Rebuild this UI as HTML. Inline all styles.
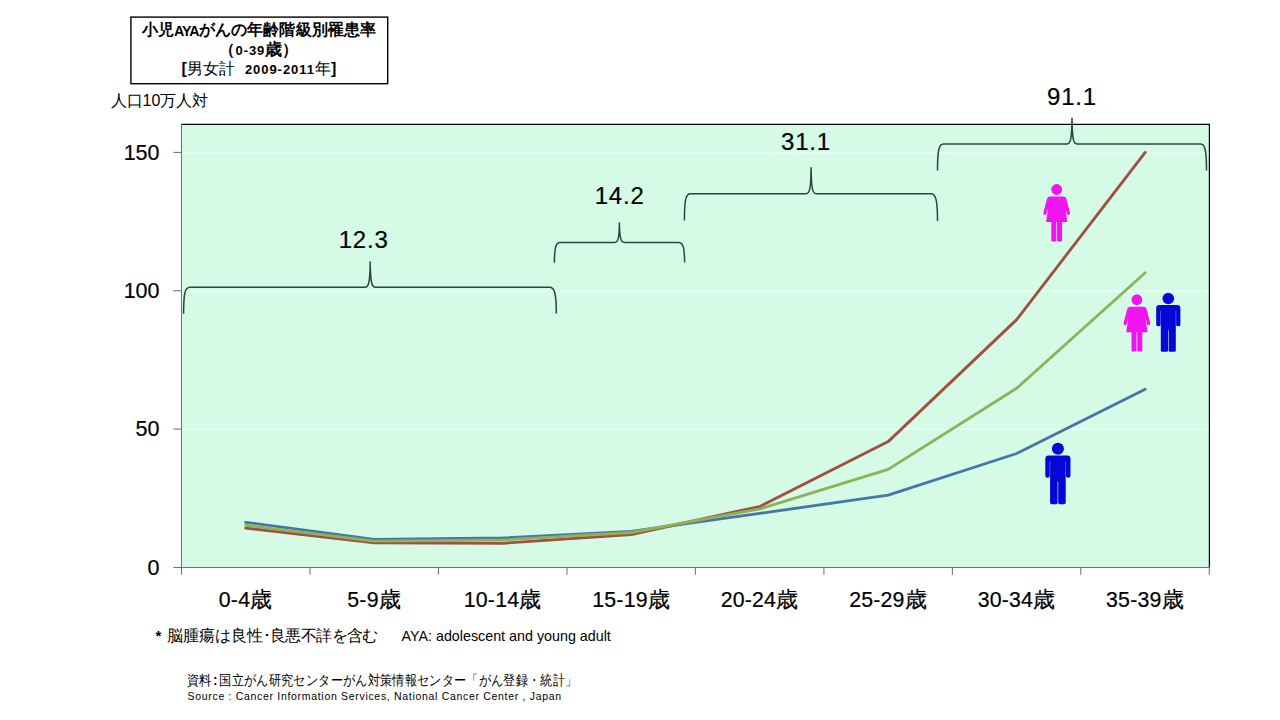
<!DOCTYPE html>
<html lang="ja">
<head>
<meta charset="utf-8">
<style>
html,body{margin:0;padding:0;background:#fff;}
body{width:1280px;height:720px;position:relative;overflow:hidden;font-family:"Liberation Sans",sans-serif;color:#000;}
.a{position:absolute;white-space:nowrap;line-height:1;}
.tl{position:absolute;left:130px;width:258px;text-align:center;font-size:16px;line-height:18px;white-space:nowrap;letter-spacing:0.15px;}
.tl .ay{font-size:14.3px;letter-spacing:-1px;position:relative;top:0.5px;}
.tl .d{font-size:13px;letter-spacing:0.6px;}
.yl{position:absolute;width:60px;text-align:right;font-size:21.5px;line-height:1;}
.xl{position:absolute;width:128px;text-align:center;font-size:21.3px;line-height:1;letter-spacing:0.2px;}
.xl span{font-size:22px;letter-spacing:0;}
.xl,.yl,.vl{-webkit-text-stroke:0.2px #000;}
.vl{position:absolute;font-size:24px;line-height:1;width:80px;text-align:center;letter-spacing:0.8px;}
</style>
</head>
<body>
<svg width="1280" height="720" style="position:absolute;left:0;top:0">
  <defs>
    <g id="woman">
      <circle cx="0" cy="5.5" r="5.4"/>
      <path d="M-6.5 12.6 H6.5 Q9 12.6 9.6 14.5 L13.3 28.6 Q13.7 30.8 12 31.1 Q10.7 31.3 10.2 29.8 L8.6 23.5 L10.6 38 H-10.6 L-8.6 23.5 L-10.2 29.8 Q-10.7 31.3 -12 31.1 Q-13.7 30.8 -13.3 28.6 L-9.6 14.5 Q-9 12.6 -6.5 12.6 Z"/>
      <path d="M-5.4 37.5 H-0.35 V56.2 Q-0.35 57.4 -1.5 57.4 H-4.2 Q-5.4 57.4 -5.4 56.2 Z"/>
      <path d="M5.4 37.5 H0.35 V56.2 Q0.35 57.4 1.5 57.4 H4.2 Q5.4 57.4 5.4 56.2 Z"/>
    </g>
    <g id="man">
      <circle cx="0" cy="5.7" r="5.8"/>
      <path d="M-9 12.2 H9 Q12.1 12.2 12.1 15.5 V31.6 Q12.1 33.5 10.2 33.5 H9.7 Q7.8 33.5 7.8 31.6 V18 H7.5 V57.6 Q7.5 59 6.1 59 H1.6 Q0.3 59 0.3 57.6 V37.5 H-0.3 V57.6 Q-0.3 59 -1.6 59 H-6.1 Q-7.5 59 -7.5 57.6 V18 H-7.8 V31.6 Q-7.8 33.5 -9.7 33.5 H-10.2 Q-12.1 33.5 -12.1 31.6 V15.5 Q-12.1 12.2 -9 12.2 Z"/>
    </g>
  </defs>
  <rect x="130.9" y="17.1" width="256.8" height="66.6" fill="#fff" stroke="#000" stroke-width="1.4"/>
  <!-- plot area -->
  <rect x="181.5" y="124.4" width="1027.9" height="443" fill="#d5fae6"/>
  <path d="M181 124.4 H1209.4 V567.5" fill="none" stroke="#000" stroke-width="1.2"/>
  <!-- gridlines -->
  <g stroke="#f2fff8" stroke-width="1.2">
    <line x1="182.5" y1="153.2" x2="1208.6" y2="153.2"/>
    <line x1="182.5" y1="291.0" x2="1208.6" y2="291.0"/>
    <line x1="182.5" y1="429.4" x2="1208.6" y2="429.4"/>
  </g>
  <!-- axes -->
  <g stroke="#6a7570" stroke-width="1.05" fill="none">
    <line x1="181.5" y1="124" x2="181.5" y2="567.5"/>
    <line x1="173.3" y1="567.5" x2="1209.9" y2="567.5"/>
    <line x1="173.3" y1="152.4" x2="181.5" y2="152.4"/>
    <line x1="173.3" y1="290.7" x2="181.5" y2="290.7"/>
    <line x1="173.3" y1="429.1" x2="181.5" y2="429.1"/>
    <line x1="181.5" y1="567.4" x2="181.5" y2="574.7"/>
    <line x1="310" y1="567.4" x2="310" y2="574.7"/>
    <line x1="438.5" y1="567.4" x2="438.5" y2="574.7"/>
    <line x1="567" y1="567.4" x2="567" y2="574.7"/>
    <line x1="695.4" y1="567.4" x2="695.4" y2="574.7"/>
    <line x1="823.9" y1="567.4" x2="823.9" y2="574.7"/>
    <line x1="952.4" y1="567.4" x2="952.4" y2="574.7"/>
    <line x1="1080.8" y1="567.4" x2="1080.8" y2="574.7"/>
    <line x1="1209.3" y1="567.4" x2="1209.3" y2="574.7"/>
  </g>
  <!-- data lines -->
  <g fill="none" stroke-width="2.85" stroke-linejoin="round" stroke-linecap="round">
    <polyline stroke="#4576a6" points="245.7,522.3 374.2,539.4 502.7,538.0 631.2,531.4 759.7,513.4 888.2,495.2 1016.7,453.5 1145.2,389.2"/>
    <polyline stroke="#9e5143" points="245.7,528.1 374.2,542.8 502.7,543.3 631.2,534.5 760.3,506.3 888.2,441.6 1016.7,319.6 1145.2,152.4"/>
    <polyline stroke="#8fb157" points="245.7,525.3 374.2,541.1 502.7,540.0 631.2,532.5 760.3,508.8 888.2,469.4 1016.7,388.2 1145.2,272.7"/>
  </g>
  <!-- brackets -->
  <g fill="none" stroke="#2c4638" stroke-width="1.5">
    <path d="M183.6,313.7 C183.6,293 185,287.3 190,287.3 L365,287.3 C368.5,287.3 370,283 370.2,261.5 C370.4,283 372,287.3 375.5,287.3 L549.5,287.3 C554.5,287.3 556.3,293 556.3,313.5"/>
    <path d="M554.4,262.8 C554.4,247 556,242.4 560,242.4 L614.5,242.4 C618,242.4 619.2,239 619.4,222.4 C619.6,239 621,242.4 624.5,242.4 L678.5,242.4 C683,242.4 684.6,247 684.6,262.5"/>
    <path d="M684.4,220.6 C684.4,199 686,193.8 690.5,193.8 L806,193.8 C809.6,193.8 810.9,189 811.1,167.2 C811.3,189 812.6,193.8 816.2,193.8 L931,193.8 C935.5,193.8 937.5,199 937.5,221"/>
    <path d="M937.5,170.6 C937.5,150 939,143.9 943.5,143.9 L1067,143.9 C1070.6,143.9 1071.8,139 1072,117.8 C1072.2,139 1073.4,143.9 1077,143.9 L1200.5,143.9 C1205,143.9 1206.5,150 1206.5,170.4"/>
  </g>
  <!-- icons -->
  <use href="#woman" fill="#f014f0" transform="translate(1056.7,184)"/>
  <use href="#woman" fill="#f014f0" transform="translate(1136.9,294.2)"/>
  <use href="#man" fill="#0606d6" transform="translate(1168.3,292.8)"/>
  <use href="#man" fill="#0606d6" transform="translate(1057.9,442.8) scale(1.04)"/>
</svg>

<div class="tl" style="top:21px;font-weight:bold;">小児<span class="ay">AYA</span>がんの年齢階級別罹患率</div>
<div class="tl" style="top:41px;font-weight:bold;">（<b class="d" style="letter-spacing:0.9px">0-39</b><b style="font-size:17px">歳</b>）</div>
<div class="tl" style="top:60px;"><b>[</b>男女計<span style="display:inline-block;width:9.5px"></span><b class="d" style="letter-spacing:0.95px">2009-2011</b>年<b>]</b></div>
<div class="a" style="left:110.5px;top:93px;font-size:16px;">人口10万人対</div>

<div class="yl" style="left:99.5px;top:142.5px;">150</div>
<div class="yl" style="left:99.5px;top:280.5px;">100</div>
<div class="yl" style="left:99.5px;top:419.3px;">50</div>
<div class="yl" style="left:99.5px;top:557.6px;">0</div>

<div class="xl" style="left:181.5px;top:589px;">0-4<span>歳</span></div>
<div class="xl" style="left:310px;top:589px;">5-9<span>歳</span></div>
<div class="xl" style="left:438.5px;top:589px;">10-14<span>歳</span></div>
<div class="xl" style="left:567px;top:589px;">15-19<span>歳</span></div>
<div class="xl" style="left:695.4px;top:589px;">20-24<span>歳</span></div>
<div class="xl" style="left:823.9px;top:589px;">25-29<span>歳</span></div>
<div class="xl" style="left:952.4px;top:589px;">30-34<span>歳</span></div>
<div class="xl" style="left:1080.8px;top:589px;">35-39<span>歳</span></div>

<div class="vl" style="left:323.7px;top:228px;">12.3</div>
<div class="vl" style="left:579.6px;top:184px;">14.2</div>
<div class="vl" style="left:766px;top:130px;">31.1</div>
<div class="vl" style="left:1032px;top:85px;">91.1</div>

<div class="a" style="left:155.5px;top:627.5px;font-size:15px;font-weight:bold;">*</div>
<div class="a" style="left:166.5px;top:627.5px;font-size:15.8px;letter-spacing:0px;">脳腫瘍は良性<span style="display:inline-block;width:7.5px;text-align:center;">･</span><span style="letter-spacing:-0.6px">良悪不詳を含む</span></div>
<div class="a" style="left:401.5px;top:629px;font-size:14.3px;">AYA: adolescent and young adult</div>
<div class="a" style="left:186.5px;top:673px;font-size:12.2px;letter-spacing:0.35px;transform:scaleY(1.15);transform-origin:0 0;">資料<span style="display:inline-block;width:8.2px;text-align:center;font-weight:bold;letter-spacing:0">:</span>国立がん研究センターがん対策情報センター「がん登録・統計」</div>
<div class="a" style="left:187.5px;top:691px;font-size:10.5px;letter-spacing:0.69px;">Source : Cancer Information Services, National Cancer Center , Japan</div>
</body>
</html>
